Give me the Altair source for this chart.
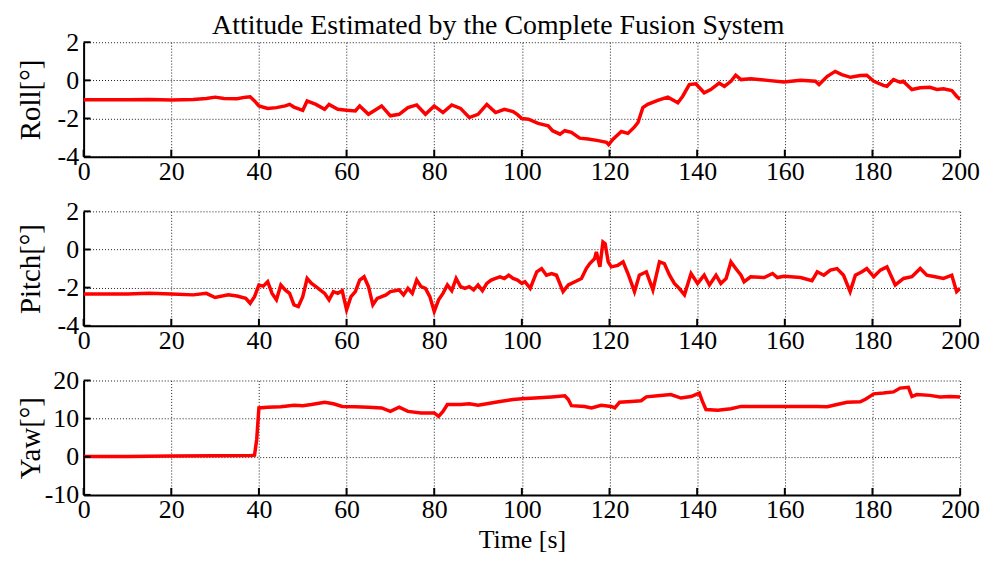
import altair as alt
import pandas as pd

# ---------------- data ----------------
roll_t = [0, 5, 10, 15, 20, 25, 28, 30, 32, 35, 37, 38, 39, 40, 42, 44, 46, 47, 48, 50,
          51, 53, 55, 56, 58, 60, 62, 63, 65, 68, 70, 72, 74, 76, 78, 80, 82, 84, 86, 88,
          90, 92, 94, 96, 98, 99, 100, 101.5, 103.7, 106, 107, 108.7, 109.8, 111.3, 113.2,
          115.1, 117.4, 119.3, 119.8, 120.8, 122.7, 124.2, 125.7, 126.5, 127.6, 128.7, 131,
          133.3, 135.6, 136.7, 138.2, 139.7, 140.9, 141.6, 143.1, 145, 146.2, 147.7, 148.8,
          150, 152.2, 156, 159.8, 163.6, 167, 167.8, 169.7, 171.5, 173, 175, 177.2, 178.7,
          180.3, 182.5, 183.3, 184.8, 186.3, 187, 189, 190.9, 193.1, 194.7, 196.2, 198.1,
          199.2, 200]
roll_v = [-1.02, -1.02, -1.02, -1.00, -1.03, -1.00, -0.95, -0.88, -0.95, -0.96, -0.88, -0.86,
          -1.08, -1.34, -1.47, -1.43, -1.34, -1.26, -1.40, -1.57, -1.08, -1.26, -1.52, -1.26,
          -1.52, -1.57, -1.60, -1.34, -1.78, -1.34, -1.86, -1.78, -1.43, -1.29, -1.78, -1.34,
          -1.69, -1.29, -1.47, -1.95, -1.78, -1.26, -1.69, -1.52, -1.64, -1.80, -2.00, -2.04,
          -2.26, -2.38, -2.64, -2.82, -2.64, -2.73, -3.03, -3.08, -3.16, -3.25, -3.37, -3.08,
          -2.68, -2.78, -2.44, -2.21, -1.43, -1.26, -1.05, -0.88, -1.17, -0.83, -0.22, -0.18,
          -0.48, -0.65, -0.48, -0.14, -0.31, -0.05, 0.27, 0.04, 0.09, 0.00, -0.08, 0.00,
          -0.05, -0.22, 0.21, 0.47, 0.30, 0.16, 0.25, 0.27, -0.05, -0.26, -0.31, 0.04, -0.10,
          -0.05, -0.48, -0.39, -0.36, -0.48, -0.44, -0.53, -0.83, -1.00]

pitch_t = [0, 10, 15, 20, 25, 28, 30, 33, 35, 37, 38, 39, 40, 41, 42, 43, 44, 45, 46, 47,
           48, 49, 50, 51, 52, 53, 55, 56, 57, 58, 59, 60, 61, 62, 63, 64, 65, 66, 67, 69,
           70, 72, 73, 74, 75, 76, 77, 78, 79, 80, 81, 82, 83, 84, 85, 86, 87, 88, 89, 90,
           91, 92, 93, 94, 95, 96, 97, 98, 99, 100, 100.7, 101.9, 103.4, 104.5, 105.6, 106.8,
           107.9, 109.4, 110.6, 112.1, 113.6, 114.7, 115.5, 116.6, 117, 117.8, 118.5, 119,
           119.7, 120.4, 121.9, 123.1, 124.2, 125.7, 126.8, 128.4, 129.9, 131.4, 132.5,
           133.7, 134.8, 135.9, 137.1, 138.6, 140.1, 141.6, 142.8, 144.3, 145.4, 146.6,
           147.7, 148.8, 150, 150.7, 152.2, 155.3, 157.2, 158.3, 159.8, 163.6, 166.2, 167.4,
           168.9, 170.4, 171.9, 173.4, 174.9, 176.1, 177.6, 178.7, 180.3, 181.8, 183.3,
           185.2, 187.1, 189, 190.9, 192.4, 194.3, 196.2, 198.1, 199.2, 200]
pitch_v = [-2.33, -2.33, -2.30, -2.33, -2.38, -2.30, -2.52, -2.38, -2.44, -2.56, -2.82, -2.47,
           -1.86, -1.92, -1.69, -2.30, -2.64, -1.86, -2.12, -2.30, -2.90, -2.99, -2.47, -1.52,
           -1.78, -1.95, -2.30, -2.64, -2.21, -2.30, -2.16, -3.16, -2.47, -2.21, -1.60, -1.43,
           -1.95, -2.90, -2.56, -2.38, -2.21, -2.12, -2.38, -2.04, -2.30, -1.60, -1.95, -2.04,
           -2.47, -3.25, -2.64, -2.30, -1.86, -2.16, -1.52, -1.95, -2.04, -1.95, -2.12, -1.86,
           -2.16, -1.78, -1.60, -1.52, -1.43, -1.52, -1.35, -1.52, -1.60, -1.78, -1.69, -2.04,
           -1.17, -1.00, -1.35, -1.26, -1.35, -2.21, -1.86, -1.69, -1.52, -1.00, -0.74, -0.48,
           -0.13, -0.91, 0.39, 0.30, -0.65, -0.91, -0.83, -0.65, -1.26, -2.21, -1.35, -1.17,
           -2.12, -0.65, -0.74, -1.35, -1.78, -2.04, -2.38, -1.26, -1.78, -1.35, -1.86, -1.35,
           -1.78, -1.52, -0.65, -1.00, -1.35, -1.69, -1.43, -1.47, -1.26, -1.47, -1.40, -1.47,
           -1.64, -1.17, -1.35, -1.08, -1.00, -1.35, -2.21, -1.35, -1.17, -1.00, -1.43, -1.08,
           -0.91, -1.86, -1.52, -1.43, -1.00, -1.35, -1.43, -1.52, -1.35, -2.21, -2.04]

yaw_t = [0, 10, 20, 30, 38, 39, 39.5, 40, 42, 45, 48, 50, 52, 55, 57, 59, 62, 65, 68, 70,
         72, 74, 77, 80, 81, 82, 83, 86, 88, 90, 92, 95, 98, 100, 103, 106.8, 109.8, 110.6,
         111.3, 114.3, 115.9, 118.1, 120.4, 121.2, 122.3, 125, 127.2, 128.4, 131, 134, 136.3,
         138.6, 140.5, 141.2, 142, 144.7, 147.7, 150, 159.8, 167.4, 169.7, 171.9, 174.2,
         177.2, 178.4, 180.3, 182.5, 184.8, 186.3, 188.2, 189, 190.1, 193.1, 195.4, 197.7, 200]
yaw_v = [0.05, 0.05, 0.23, 0.25, 0.30, 0.40, 4.6, 12.8, 13.0, 13.1, 13.5, 13.4, 13.7, 14.3,
         13.9, 13.2, 13.1, 13.0, 12.8, 11.9, 13.0, 11.9, 11.5, 11.5, 10.6, 11.9, 13.7, 13.7,
         13.9, 13.5, 13.9, 14.5, 15.0, 15.2, 15.4, 15.7, 16.0, 15.0, 13.4, 13.2, 12.8, 13.5,
         13.2, 12.8, 14.3, 14.5, 14.7, 15.7, 16.0, 16.3, 15.4, 15.8, 16.7, 14.5, 12.4, 12.2,
         12.6, 13.2, 13.2, 13.2, 13.1, 13.7, 14.3, 14.4, 15.1, 16.5, 16.7, 17.0, 18.0, 18.2,
         15.8, 16.3, 16.1, 15.7, 15.8, 15.7]

x_ticks = [0, 20, 40, 60, 80, 100, 120, 140, 160, 180, 200]
roll_ticks = [-4, -2, 0, 2]
pitch_ticks = [-4, -2, 0, 2]
yaw_ticks = [-10, 0, 10, 20]

TITLE = "Attitude Estimated by the Complete Fusion System"
FONT = "Liberation Serif"
W, H = 881, 115
LBL = 26


def panel(t, v, yname, ydom, yticks, xtitle):
    xs = alt.Scale(domain=[0, 200], nice=False, zero=False)
    ys = alt.Scale(domain=ydom, nice=False, zero=False)
    xaxis_kw = dict(values=x_ticks, grid=True, ticks=False, labelFlush=False,
                    labelPadding=2, labelExpr="'' + datum.value")
    if xtitle:
        xaxis = alt.Axis(title=xtitle, titlePadding=4, **xaxis_kw)
    else:
        xaxis = alt.Axis(title=None, **xaxis_kw)
    yaxis = alt.Axis(values=yticks, grid=True, ticks=False, labelFlush=False,
                     labelPadding=5, labelExpr="'' + datum.value", title=yname,
                     titleFontSize=29, titleX=-38, titleY=H / 2, titleBaseline="bottom")

    line = alt.Chart(pd.DataFrame({"t": t, "v": v})).mark_line(
        color="#ff0000", strokeWidth=3.5, clip=True
    ).encode(
        x=alt.X("t:Q", scale=xs, axis=xaxis),
        y=alt.Y("v:Q", scale=ys, axis=yaxis),
    )
    xt = alt.Chart(pd.DataFrame({"t": x_ticks})).mark_rule(
        color="black", strokeWidth=2
    ).encode(
        x=alt.X("t:Q", scale=xs, axis=xaxis),
        y=alt.value(H),
        y2=alt.value(H - 7),
    )
    yt = alt.Chart(pd.DataFrame({"v": yticks})).mark_rule(
        color="black", strokeWidth=2
    ).encode(
        y=alt.Y("v:Q", scale=ys, axis=yaxis),
        x=alt.value(0),
        x2=alt.value(7),
    )
    return alt.layer(line, xt, yt).properties(width=W, height=H)


p1 = panel(roll_t, roll_v, "Roll[°]", [-4, 2], roll_ticks, None)
p2 = panel(pitch_t, pitch_v, "Pitch[°]", [-4, 2], pitch_ticks, None)
p3 = panel(yaw_t, yaw_v, "Yaw[°]", [-10, 20], yaw_ticks, "Time [s]")

chart = alt.vconcat(p1, p2, p3, spacing=55, bounds="flush").properties(
    title=alt.Title(TITLE, font=FONT, fontSize=28, fontWeight="normal",
                    color="black", anchor="middle", offset=-11),
    padding={"left": 9, "top": 3, "right": 5, "bottom": 0},
).configure(background="white").configure_view(stroke=None).configure_axis(
    labelFont=FONT, labelFontSize=LBL, labelColor="black",
    titleFont=FONT, titleFontSize=LBL, titleFontWeight="normal", titleColor="black",
    domainColor="black", domainWidth=2,
    gridColor="black", gridDash=[1, 2], gridWidth=1, gridOpacity=0.9,
)

chart.save("out.html", embed_options={"renderer": "svg", "actions": False})
